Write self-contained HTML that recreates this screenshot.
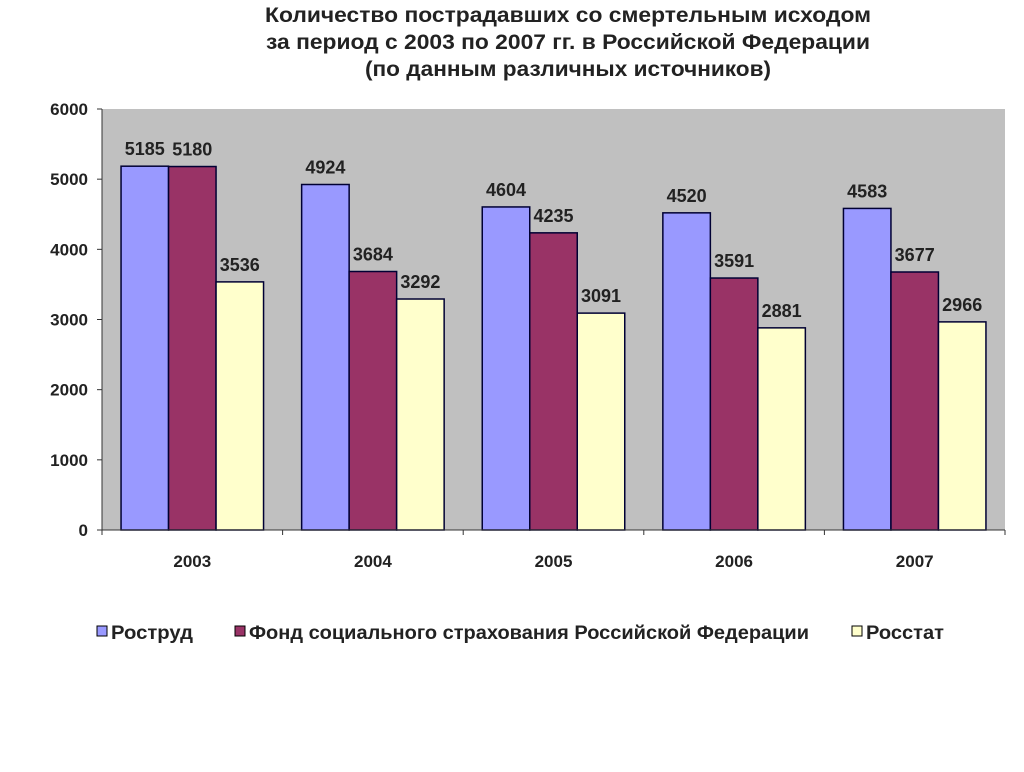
<!DOCTYPE html>
<html><head><meta charset="utf-8">
<style>
body{margin:0;background:#fff;width:1024px;height:767px;overflow:hidden;font-family:"Liberation Sans","DejaVu Sans",sans-serif;}
</style></head>
<body>
<svg id="chart" width="1024" height="767" xmlns="http://www.w3.org/2000/svg" font-family="Liberation Sans, DejaVu Sans, sans-serif">
<g font-size="21" font-weight="bold" fill="#222" text-anchor="middle">
<text x="568" y="22" textLength="606" lengthAdjust="spacingAndGlyphs">Количество пострадавших со смертельным исходом</text>
<text x="568" y="49" textLength="604" lengthAdjust="spacingAndGlyphs">за период с 2003 по 2007 гг. в Российской Федерации</text>
<text x="568" y="76" textLength="406" lengthAdjust="spacingAndGlyphs">(по данным различных источников)</text>
</g>
<rect x="102" y="109" width="903" height="421" fill="#c0c0c0"/>
<g id="bars"></g>
<g id="axes"></g>
<g font-size="19" font-weight="bold" fill="#222">
<rect x="97" y="626" width="10" height="10" fill="#9999ff" stroke="#000" stroke-width="1"/>
<text x="111" y="639" textLength="82" lengthAdjust="spacingAndGlyphs">Роструд</text>
<rect x="235" y="626" width="10" height="10" fill="#993366" stroke="#000" stroke-width="1"/>
<text x="249" y="639" textLength="560" lengthAdjust="spacingAndGlyphs">Фонд социального страхования Российской Федерации</text>
<rect x="852" y="626" width="10" height="10" fill="#ffffcc" stroke="#000" stroke-width="1"/>
<text x="866" y="639" textLength="78" lengthAdjust="spacingAndGlyphs">Росстат</text>
</g>
</svg>
<script>
const categories = ["2003","2004","2005","2006","2007"];
const rostrud = [5185,4924,4604,4520,4583];
const fss = [5180,3684,4235,3591,3677];
const rosstat = [3536,3292,3091,2881,2966];
const yTicks = [0,1000,2000,3000,4000,5000,6000];

const NS="http://www.w3.org/2000/svg";
const x0=102,x1=1005,yTop=109,yBot=530,yMax=6000;
const groupW=(x1-x0)/categories.length;
const barW=47.5;
function y(v){return yBot-(v/yMax)*(yBot-yTop);}
function gx(i){return x0+i*groupW;}
const series=[{name:"rostrud",vals:rostrud,color:"#9999ff"},{name:"fss",vals:fss,color:"#993366"},{name:"rosstat",vals:rosstat,color:"#ffffcc"}];
const bars=document.getElementById('bars');
const axes=document.getElementById('axes');
function mk(tag,attrs,parent){const e=document.createElementNS(NS,tag);for(const k in attrs)e.setAttribute(k,attrs[k]);parent.appendChild(e);return e;}
series.forEach((s,si)=>{
  s.vals.forEach((v,i)=>{
    const bx=gx(i)+(groupW-3*barW)/2+si*barW;
    const r=mk('rect',{x:bx,y:y(v),width:barW,height:yBot-y(v),fill:s.color,stroke:"#000033","stroke-width":1.5},bars);
    
    
    const t=mk('text',{x:bx+barW/2,y:y(v)-11,"text-anchor":"middle","font-size":18,"font-weight":"bold",fill:"#222"},bars);
    t.textContent=v;
    
    
  });
});
const ya=mk('line',{x1:x0,y1:yTop,x2:x0,y2:yBot,stroke:"#333","stroke-width":1},axes);


const xa=mk('line',{x1:x0,y1:yBot,x2:x1,y2:yBot,stroke:"#333","stroke-width":1},axes);


yTicks.forEach(v=>{
  mk('line',{x1:x0-5,y1:y(v),x2:x0,y2:y(v),stroke:"#333"},axes);
  const t=mk('text',{x:x0-14,y:y(v)+6,"text-anchor":"end","font-size":17,"font-weight":"bold",fill:"#222"},axes);
  t.textContent=v;
  
  
});
categories.forEach((c,i)=>{
  mk('line',{x1:gx(i),y1:yBot,x2:gx(i),y2:yBot+5,stroke:"#333"},axes);
  const t=mk('text',{x:gx(i)+groupW/2,y:567,"text-anchor":"middle","font-size":17,"font-weight":"bold",fill:"#222"},axes);
  t.textContent=c;
  
  
});
mk('line',{x1:x1,y1:yBot,x2:x1,y2:yBot+5,stroke:"#333"},axes);
</script>
</body></html>
